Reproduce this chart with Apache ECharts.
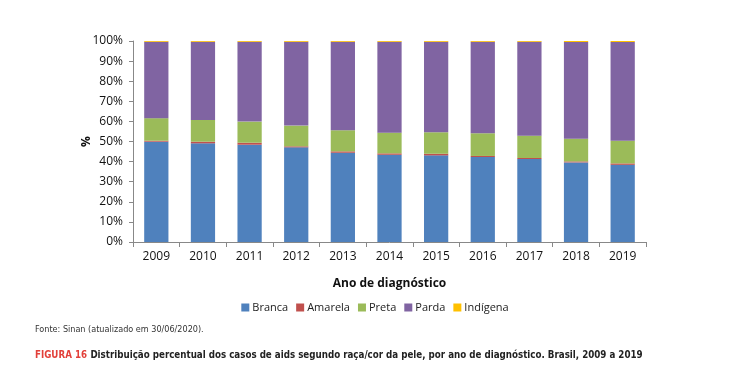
<!DOCTYPE html>
<html><head><meta charset="utf-8">
<script src="https://cdn.jsdelivr.net/npm/echarts@6/dist/echarts.min.js"></script>
<style>html,body{margin:0;padding:0;background:#fff}#c{width:750px;height:389px}</style>
</head><body><div id="c"></div>
<script>
const years = ['2009','2010','2011','2012','2013','2014','2015','2016','2017','2018','2019'];
const branca   = [49.9, 49.1, 48.4, 47.1, 44.4, 43.4, 43.1, 42.3, 41.3, 39.6, 38.4];
const amarela  = [0.5, 0.8, 1.0, 0.5, 0.7, 0.7, 0.8, 0.5, 0.5, 0.5, 0.7];
const preta    = [11.2, 10.8, 10.5, 10.3, 10.5, 10.3, 10.7, 11.3, 11.1, 11.3, 11.3];
const parda    = [38.0, 38.9, 39.7, 41.7, 44.0, 45.2, 45.0, 45.5, 46.7, 48.1, 49.1];
const indigena = [0.4, 0.4, 0.4, 0.4, 0.4, 0.4, 0.4, 0.4, 0.4, 0.5, 0.5];
const yTicks = [0,10,20,30,40,50,60,70,80,90,100];

const names = ['Branca','Amarela','Preta','Parda','Indígena'];
const colors = ['#4F81BD','#C0504D','#9BBB59','#8064A2','#FFC000'];
const datasets = [branca, amarela, preta, parda, indigena];
const font = 'Open Sans';
const cond = 'DejaVu Sans Condensed';

const chart = echarts.init(document.getElementById('c'));
chart.setOption({
  animation: false,
  textStyle: {fontFamily: font},
  grid: {left: 133, right: 104, top: 41, bottom: 147},
  legend: {
    data: names, top: 297, left: 'center', itemWidth: 8, itemHeight: 8, itemGap: 8,
    icon: 'rect', textStyle: {fontSize: 11, color: '#222', padding: [0,0,0,-2]}
  },
  xAxis: {
    type: 'category', data: years,
    name: 'Ano de diagnóstico', nameLocation: 'middle', nameGap: 36,
    nameTextStyle: {fontWeight: 'bold', fontSize: 12, color: '#111'},
    axisLine: {lineStyle: {color: '#888'}},
    axisTick: {show: true, length: 5, lineStyle: {color: '#888'}},
    axisLabel: {fontSize: 12, color: '#111', margin: 9}
  },
  yAxis: {
    type: 'value', min: 0, max: 100, interval: 10,
    name: '%', nameLocation: 'middle', nameGap: 40, nameMoveOverlap: false,
    nameTextStyle: {fontWeight: 'bold', fontSize: 12, color: '#111'},
    axisLine: {show: true, lineStyle: {color: '#888'}},
    axisTick: {show: true, length: 4, lineStyle: {color: '#888'}},
    splitLine: {show: false},
    axisLabel: {fontSize: 12, color: '#111', margin: 10, formatter: v => yTicks.includes(v) ? v + '%' : ''}
  },
  series: datasets.map((d, i) => ({
    name: names[i], type: 'bar', stack: 'total', data: d, barWidth: '52%',
    itemStyle: {color: colors[i]}
  })),
  graphic: [
    {type: 'text', left: 35, top: 325, style: {text: 'Fonte: Sinan (atualizado em 30/06/2020).', fontSize: 9, fill: '#333', fontFamily: cond}},
    {type: 'text', left: 35, top: 349, style: {
      text: '{a|FIGURA 16} {b|Distribuição percentual dos casos de aids segundo raça/cor da pele, por ano de diagnóstico. Brasil, 2009 a 2019}',
      rich: {
        a: {fontSize: 9.7, fontWeight: 'bold', fill: '#E2403A', fontFamily: cond},
        b: {fontSize: 9.7, fontWeight: 'bold', fill: '#222', fontFamily: cond}
      }
    }}
  ]
});
</script></body></html>
